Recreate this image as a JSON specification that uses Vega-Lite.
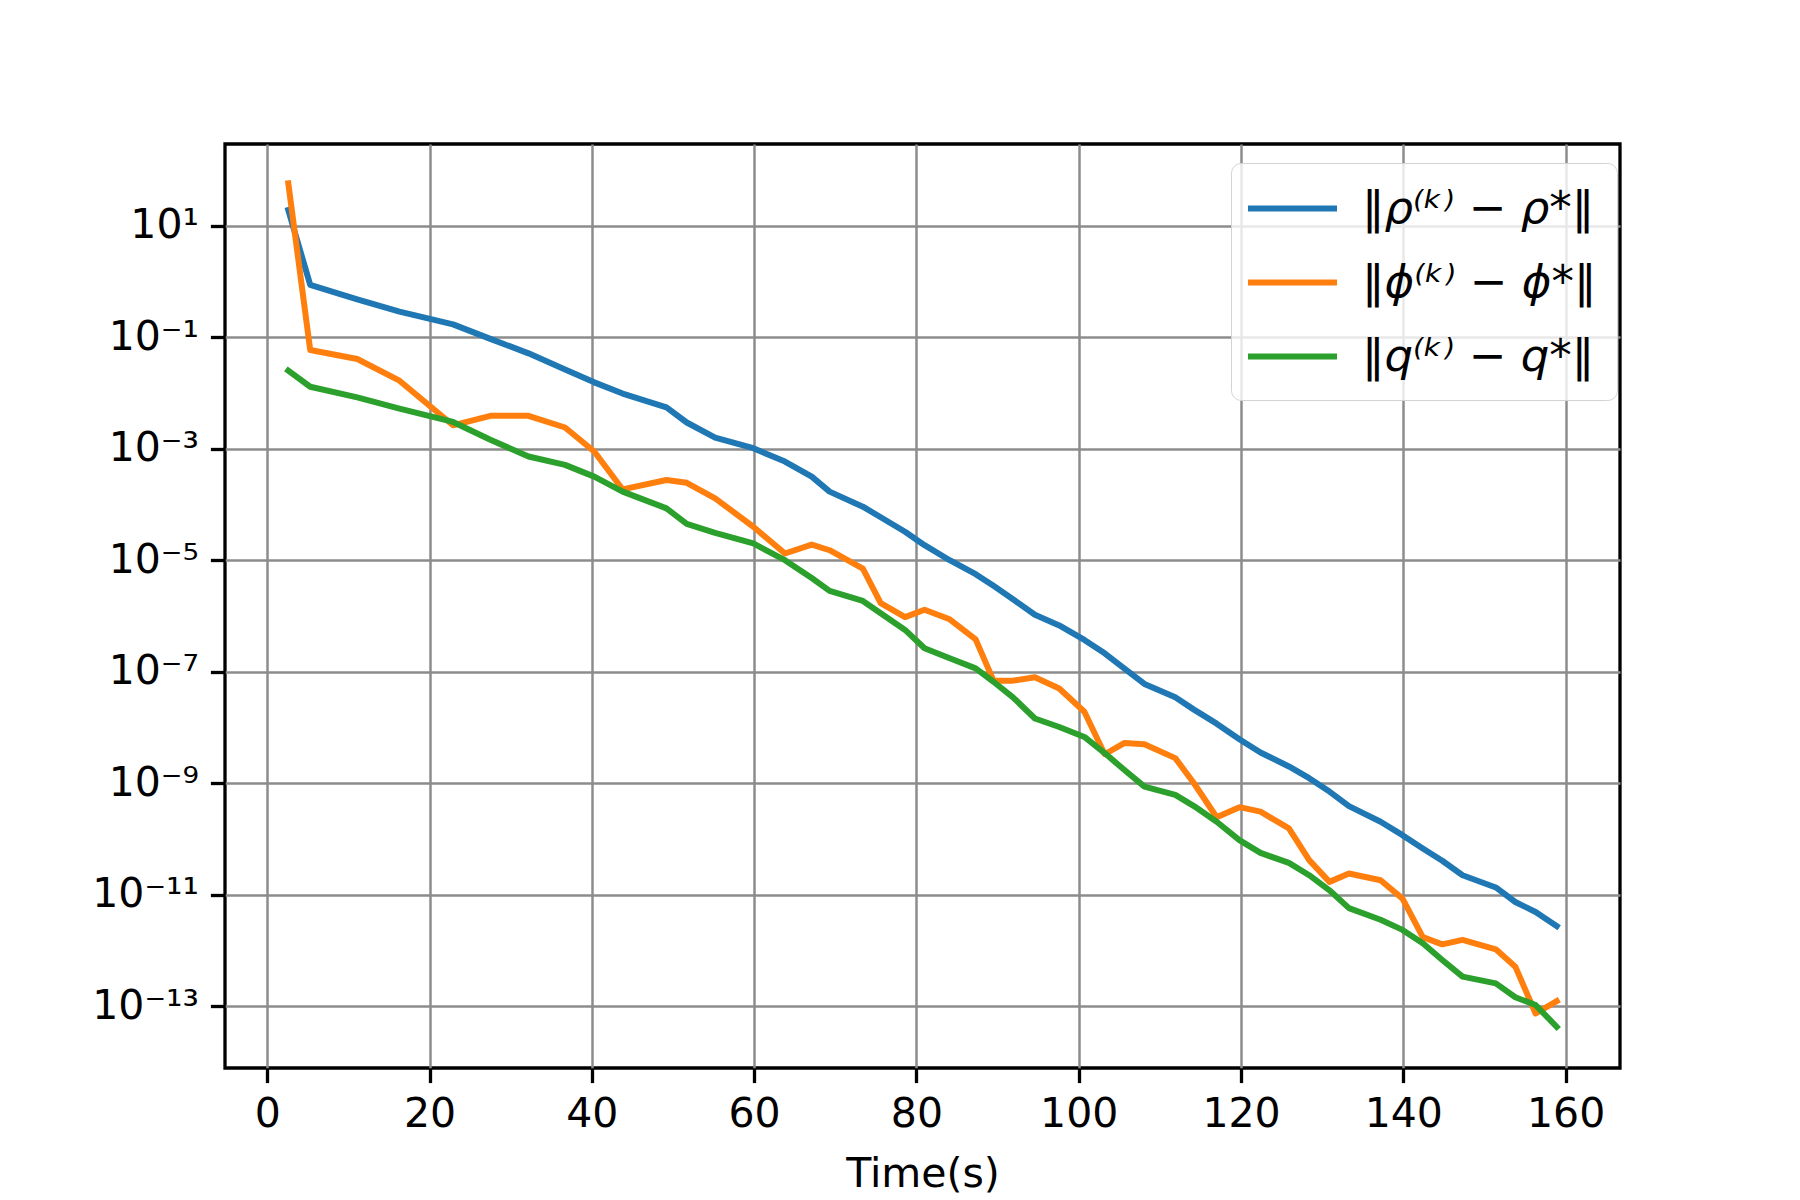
{
"$schema":"https://vega.github.io/schema/vega-lite/v6.json",
"autosize":{"type":"none"},
"padding":{"left":225,"top":144,"right":180,"bottom":132},
"width":1395,"height":924,
"background":"white",
"config":{"view":{"stroke":"black","strokeWidth":3.3},"font":"DejaVu Sans"},
"data":{"values":[
{"t":2.6,"s":"rho","v":1.905e1},{"t":5.3,"s":"rho","v":8.71e-1},{"t":11.1,"s":"rho","v":4.79e-1},{"t":16.3,"s":"rho","v":2.88e-1},{"t":22.9,"s":"rho","v":1.70e-1},{"t":27.5,"s":"rho","v":9.33e-2},{"t":32.2,"s":"rho","v":5.13e-2},{"t":36.7,"s":"rho","v":2.63e-2},{"t":40.3,"s":"rho","v":1.55e-2},{"t":43.8,"s":"rho","v":9.77e-3},{"t":49.2,"s":"rho","v":5.50e-3},{"t":51.7,"s":"rho","v":2.95e-3},{"t":55.2,"s":"rho","v":1.58e-3},{"t":59.9,"s":"rho","v":1.02e-3},{"t":63.8,"s":"rho","v":5.89e-4},{"t":67.1,"s":"rho","v":3.16e-4},{"t":69.3,"s":"rho","v":1.70e-4},{"t":73.4,"s":"rho","v":9.12e-5},{"t":75.6,"s":"rho","v":5.89e-5},{"t":78.6,"s":"rho","v":3.24e-5},{"t":81.0,"s":"rho","v":1.86e-5},{"t":84.1,"s":"rho","v":1.0e-5},{"t":87.3,"s":"rho","v":5.62e-6},{"t":89.5,"s":"rho","v":3.47e-6},{"t":91.9,"s":"rho","v":2.00e-6},{"t":94.6,"s":"rho","v":1.05e-6},{"t":97.6,"s":"rho","v":6.76e-7},{"t":100.7,"s":"rho","v":3.72e-7},{"t":103.2,"s":"rho","v":2.14e-7},{"t":105.6,"s":"rho","v":1.15e-7},{"t":108.1,"s":"rho","v":6.03e-8},{"t":111.9,"s":"rho","v":3.47e-8},{"t":114.2,"s":"rho","v":2.09e-8},{"t":117.0,"s":"rho","v":1.17e-8},{"t":119.8,"s":"rho","v":6.17e-9},{"t":122.4,"s":"rho","v":3.55e-9},{"t":125.9,"s":"rho","v":2.00e-9},{"t":128.4,"s":"rho","v":1.23e-9},{"t":130.9,"s":"rho","v":7.08e-10},{"t":133.3,"s":"rho","v":3.89e-10},{"t":137.2,"s":"rho","v":2.04e-10},{"t":139.9,"s":"rho","v":1.17e-10},{"t":142.4,"s":"rho","v":6.76e-11},{"t":144.8,"s":"rho","v":4.07e-11},{"t":147.3,"s":"rho","v":2.24e-11},{"t":151.4,"s":"rho","v":1.35e-11},{"t":153.8,"s":"rho","v":7.41e-12},{"t":156.3,"s":"rho","v":4.90e-12},{"t":158.9,"s":"rho","v":2.75e-12},
{"t":2.6,"s":"phi","v":5.75e1},{"t":5.3,"s":"phi","v":5.89e-2},{"t":11.1,"s":"phi","v":4.07e-2},{"t":16.3,"s":"phi","v":1.66e-2},{"t":22.9,"s":"phi","v":2.63e-3},{"t":27.5,"s":"phi","v":3.89e-3},{"t":32.2,"s":"phi","v":3.89e-3},{"t":36.7,"s":"phi","v":2.40e-3},{"t":40.3,"s":"phi","v":8.91e-4},{"t":43.8,"s":"phi","v":1.86e-4},{"t":49.2,"s":"phi","v":2.75e-4},{"t":51.7,"s":"phi","v":2.45e-4},{"t":55.2,"s":"phi","v":1.29e-4},{"t":59.9,"s":"phi","v":3.98e-5},{"t":63.8,"s":"phi","v":1.32e-5},{"t":67.1,"s":"phi","v":1.91e-5},{"t":69.3,"s":"phi","v":1.51e-5},{"t":73.4,"s":"phi","v":7.08e-6},{"t":75.6,"s":"phi","v":1.70e-6},{"t":78.6,"s":"phi","v":9.55e-7},{"t":81.0,"s":"phi","v":1.29e-6},{"t":84.1,"s":"phi","v":8.71e-7},{"t":87.3,"s":"phi","v":3.80e-7},{"t":89.5,"s":"phi","v":6.92e-8},{"t":91.9,"s":"phi","v":6.92e-8},{"t":94.6,"s":"phi","v":7.94e-8},{"t":97.6,"s":"phi","v":5.01e-8},{"t":100.7,"s":"phi","v":1.91e-8},{"t":103.2,"s":"phi","v":3.31e-9},{"t":105.6,"s":"phi","v":5.25e-9},{"t":108.1,"s":"phi","v":5.01e-9},{"t":111.9,"s":"phi","v":2.82e-9},{"t":114.2,"s":"phi","v":1.0e-9},{"t":117.0,"s":"phi","v":2.45e-10},{"t":119.8,"s":"phi","v":3.72e-10},{"t":122.4,"s":"phi","v":3.09e-10},{"t":125.9,"s":"phi","v":1.55e-10},{"t":128.4,"s":"phi","v":4.17e-11},{"t":130.9,"s":"phi","v":1.70e-11},{"t":133.3,"s":"phi","v":2.40e-11},{"t":137.2,"s":"phi","v":1.82e-11},{"t":139.9,"s":"phi","v":8.51e-12},{"t":142.4,"s":"phi","v":1.74e-12},{"t":144.8,"s":"phi","v":1.29e-12},{"t":147.3,"s":"phi","v":1.55e-12},{"t":151.4,"s":"phi","v":1.05e-12},{"t":153.8,"s":"phi","v":5.13e-13},{"t":156.3,"s":"phi","v":7.41e-14},{"t":158.9,"s":"phi","v":1.23e-13},
{"t":2.6,"s":"q","v":2.51e-2},{"t":5.3,"s":"q","v":1.29e-2},{"t":11.1,"s":"q","v":8.32e-3},{"t":16.3,"s":"q","v":5.25e-3},{"t":22.9,"s":"q","v":3.02e-3},{"t":27.5,"s":"q","v":1.45e-3},{"t":32.2,"s":"q","v":7.24e-4},{"t":36.7,"s":"q","v":5.13e-4},{"t":40.3,"s":"q","v":3.16e-4},{"t":43.8,"s":"q","v":1.70e-4},{"t":49.2,"s":"q","v":8.51e-5},{"t":51.7,"s":"q","v":4.47e-5},{"t":55.2,"s":"q","v":3.09e-5},{"t":59.9,"s":"q","v":2.00e-5},{"t":63.8,"s":"q","v":1.0e-5},{"t":67.1,"s":"q","v":4.79e-6},{"t":69.3,"s":"q","v":2.82e-6},{"t":73.4,"s":"q","v":1.86e-6},{"t":75.6,"s":"q","v":1.12e-6},{"t":78.6,"s":"q","v":5.62e-7},{"t":81.0,"s":"q","v":2.63e-7},{"t":84.1,"s":"q","v":1.74e-7},{"t":87.3,"s":"q","v":1.15e-7},{"t":89.5,"s":"q","v":6.61e-8},{"t":91.9,"s":"q","v":3.47e-8},{"t":94.6,"s":"q","v":1.45e-8},{"t":97.6,"s":"q","v":1.02e-8},{"t":100.7,"s":"q","v":6.76e-9},{"t":103.2,"s":"q","v":3.47e-9},{"t":105.6,"s":"q","v":1.74e-9},{"t":108.1,"s":"q","v":8.71e-10},{"t":111.9,"s":"q","v":6.17e-10},{"t":114.2,"s":"q","v":3.89e-10},{"t":117.0,"s":"q","v":2.04e-10},{"t":119.8,"s":"q","v":9.55e-11},{"t":122.4,"s":"q","v":5.62e-11},{"t":125.9,"s":"q","v":3.72e-11},{"t":128.4,"s":"q","v":2.24e-11},{"t":130.9,"s":"q","v":1.20e-11},{"t":133.3,"s":"q","v":5.75e-12},{"t":137.2,"s":"q","v":3.55e-12},{"t":139.9,"s":"q","v":2.34e-12},{"t":142.4,"s":"q","v":1.35e-12},{"t":144.8,"s":"q","v":6.76e-13},{"t":147.3,"s":"q","v":3.39e-13},{"t":151.4,"s":"q","v":2.57e-13},{"t":153.8,"s":"q","v":1.45e-13},{"t":156.3,"s":"q","v":1.05e-13},{"t":158.9,"s":"q","v":4.27e-14}
]},
"mark":{"type":"line","strokeWidth":6,"strokeJoin":"round","strokeCap":"square","clip":true},
"encoding":{
"x":{"field":"t","type":"quantitative","scale":{"domain":[-5.2,166.7],"nice":false,"zero":false},
"axis":{"values":[0,20,40,60,80,100,120,140,160],"title":"Time(s)","domain":false,"grid":true,"gridColor":"#8c8c8c","gridWidth":2.5,"tickColor":"black","tickWidth":3.3,"tickSize":14.6,"labelPadding":12,"labelFontSize":41,"labelColor":"black","labelFont":"DejaVu Sans","titleFont":"DejaVu Sans","titleFontSize":41,"titleFontWeight":"normal","titleColor":"black","titlePadding":20,"labelFlush":false}},
"y":{"field":"v","type":"quantitative","scale":{"type":"log","domain":[7.8e-15,292],"nice":false,"zero":false},
"axis":{"values":[10,0.1,0.001,1e-5,1e-7,1e-9,1e-11,1e-13],"title":null,"domain":false,"grid":true,"gridColor":"#8c8c8c","gridWidth":2.5,"tickColor":"black","tickWidth":3.3,"tickSize":14.6,"labelPadding":12,"labelFontSize":41,"labelColor":"black","labelFont":"DejaVu Sans","labelFlush":false,
"labelExpr":"datum.value >= 1 ? '10¹' : datum.value > 0.01 ? '10⁻¹' : datum.value > 1e-4 ? '10⁻³' : datum.value > 1e-6 ? '10⁻⁵' : datum.value > 1e-8 ? '10⁻⁷' : datum.value > 1e-10 ? '10⁻⁹' : datum.value > 1e-12 ? '10⁻¹¹' : '10⁻¹³'"}},
"color":{"field":"s","type":"nominal","scale":{"domain":["rho","phi","q"],"range":["#1f77b4","#ff7f0e","#2ca02c"]},
"legend":{"orient":"none","legendX":1006,"legendY":19,"title":null,"labelFontSize":45,"labelFont":"DejaVu Sans","labelFontStyle":"italic","labelColor":"black","labelLimit":800,"symbolType":"M-2,0H2","symbolStrokeWidth":6,"symbolSize":1980,"symbolOffset":16,"labelOffset":44,"fillColor":"rgba(255,255,255,0.8)","strokeColor":"#d3d3d3","cornerRadius":10,"padding":20,"rowPadding":25,
"labelExpr":"datum.value == 'rho' ? '‖ρ⁽ᵏ⁾ − ρ*‖' : datum.value == 'phi' ? '‖ϕ⁽ᵏ⁾ − ϕ*‖' : '‖q⁽ᵏ⁾ − q*‖'"}}
}
}
